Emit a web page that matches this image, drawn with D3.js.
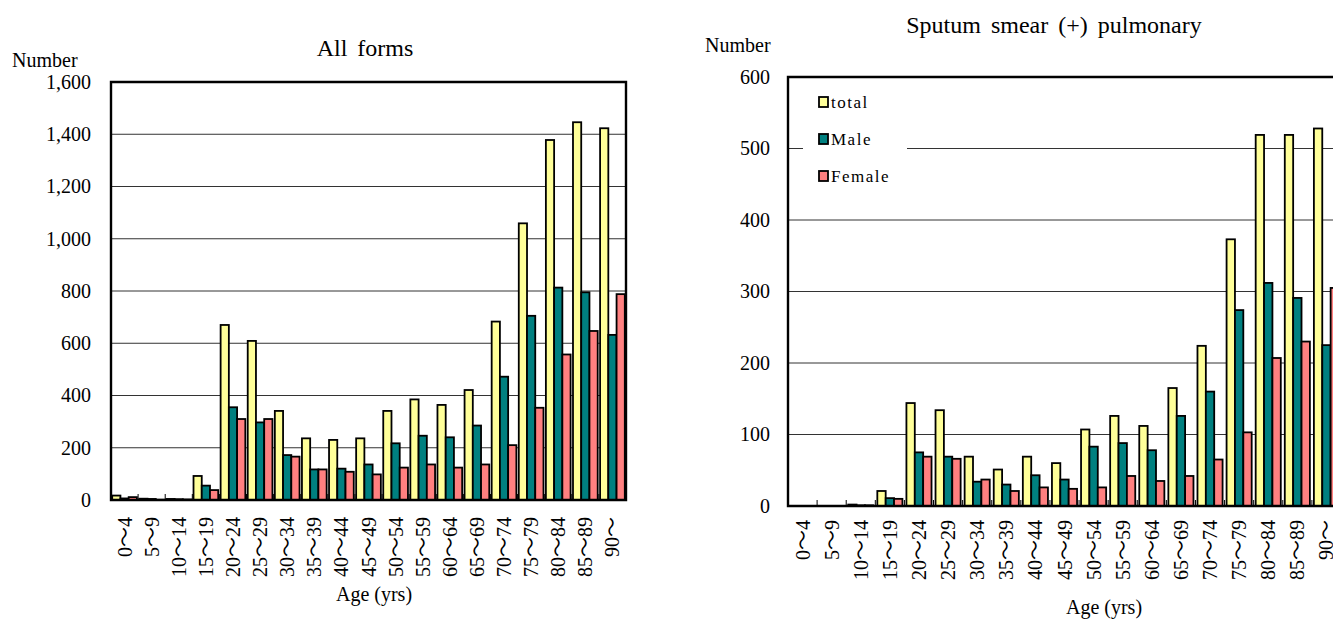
<!DOCTYPE html>
<html>
<head>
<meta charset="utf-8">
<script src="https://cdn.jsdelivr.net/npm/d3@7"></script>
<style>
  body { margin: 0; background: #fff; }
  svg { display: block; }
  text { font-family: "Liberation Serif", "Noto Sans CJK JP", serif; fill: #000; }
</style>
</head>
<body>
<svg id="chart" width="1333" height="622"></svg>
<script>
// age groups on the x axis
const ages = ["0～4", "5～9", "10～14", "15～19", "20～24", "25～29", "30～34", "35～39", "40～44",
  "45～49", "50～54", "55～59", "60～64", "65～69", "70～74", "75～79", "80～84", "85～89", "90～"];
const seriesNames = ["total", "Male", "Female"];
const seriesColors = ["#FFFF99", "#008080", "#FF8080"];

// All forms
const allTotal = [17, 5, 4, 92, 670, 609, 341, 236, 230, 236, 341, 385, 364, 421, 683, 1059, 1378, 1446, 1423];
const allMale = [6, 4, 3, 55, 355, 297, 172, 117, 120, 136, 217, 246, 240, 285, 472, 705, 813, 795, 632];
const allFemale = [11, 1, 2, 38, 310, 310, 166, 117, 108, 98, 124, 136, 124, 136, 210, 353, 557, 647, 788];
const allTicks = [0, 200, 400, 600, 800, 1000, 1200, 1400, 1600];

// Sputum smear (+) pulmonary
const smearTotal = [0, 0, 2, 21, 144, 134, 69, 51, 69, 60, 107, 126, 112, 165, 224, 373, 519, 519, 528];
const smearMale = [0, 0, 1, 11, 75, 69, 34, 30, 43, 37, 83, 88, 78, 126, 160, 274, 312, 291, 225];
const smearFemale = [0, 0, 1, 10, 69, 66, 37, 21, 26, 24, 26, 42, 35, 42, 65, 103, 207, 230, 305];
const smearTicks = [0, 100, 200, 300, 400, 500, 600];

const svg = d3.select("#chart");

function drawChart(opt) {
  const g = svg.append("g");
  const rows = ages.map((a, i) => ({ age: a, values: opt.series.map((s, k) => ({ key: seriesNames[k], v: s[i], k: k })) }));

  const x = d3.scaleBand().domain(ages).range([opt.left, opt.right]).padding(0);
  const xs = d3.scaleBand().domain(seriesNames)
    .range([opt.groupPad, x.bandwidth() - opt.groupPad]).padding(0);
  const y = d3.scaleLinear().domain([0, d3.max(opt.ticks)]).range([opt.bottom, opt.top]);

  // gridlines
  g.append("g").selectAll("line").data(opt.ticks.slice(1, -1)).join("line")
    .attr("x1", opt.left).attr("x2", opt.right)
    .attr("y1", d => y(d)).attr("y2", d => y(d))
    .attr("stroke", "#333").attr("stroke-width", 1);

  // legend box hides the gridline behind it
  if (opt.legend) {
    g.append("rect").attr("x", opt.legend.x).attr("y", opt.legend.y)
      .attr("width", opt.legend.w).attr("height", opt.legend.h).attr("fill", "#fff");
  }

  // bars
  g.append("g").selectAll("g").data(rows).join("g")
    .attr("transform", d => `translate(${x(d.age)},0)`)
    .selectAll("rect").data(d => d.values).join("rect")
    .attr("x", d => xs(d.key))
    .attr("width", xs.bandwidth())
    .attr("y", d => y(d.v))
    .attr("height", d => opt.bottom - y(d.v))
    .attr("fill", d => seriesColors[d.k])
    .attr("stroke", "#000").attr("stroke-width", 1.8);

  // x ticks (inside, at category boundaries)
  g.append("g").selectAll("line").data(ages.slice(1)).join("line")
    .attr("x1", d => x(d)).attr("x2", d => x(d))
    .attr("y1", opt.bottom).attr("y2", opt.bottom - 6)
    .attr("stroke", "#000").attr("stroke-width", 1);

  // frame
  g.append("path")
    .attr("d", `M${opt.left},${opt.bottom}V${opt.top}H${opt.right}V${opt.bottom}Z`)
    .attr("fill", "none").attr("stroke", "#000").attr("stroke-width", 2.4);

  // y axis labels
  const yAxis = d3.axisLeft(y).tickValues(opt.ticks).tickFormat(d3.format(",")).tickSize(0).tickPadding(opt.yPad);
  const ya = g.append("g").attr("transform", `translate(${opt.left},0)`).call(yAxis);
  ya.select(".domain").remove();
  ya.selectAll("text").attr("font-size", 20).attr("font-family", "Liberation Serif").attr("fill", "#000");

  // x labels, rotated
  g.append("g").selectAll("text").data(ages).join("text")
    .attr("transform", d => `translate(${x(d) + x.bandwidth() / 2 + 7},${opt.bottom + opt.xPad}) rotate(-90)`)
    .attr("text-anchor", "end")
    .attr("font-size", 20)
    .text(d => d);

  g.append("text").attr("x", opt.titleX).attr("y", opt.titleY)
    .attr("text-anchor", "middle").attr("font-size", 24).attr("word-spacing", 4).text(opt.title);
  g.append("text").attr("x", opt.numX).attr("y", opt.numY).attr("font-size", 20).text("Number");
  g.append("text").attr("x", opt.ageX).attr("y", opt.ageY)
    .attr("text-anchor", "middle").attr("font-size", 20).text("Age (yrs)");

  if (opt.legend) {
    const items = g.append("g").selectAll("g").data(seriesNames).join("g")
      .attr("transform", (d, i) => `translate(${opt.legend.x + 16},${opt.legend.y + 17 + i * 37})`);
    items.append("rect").attr("x", 0).attr("y", -5).attr("width", 9).attr("height", 10)
      .attr("fill", (d, i) => seriesColors[i]).attr("stroke", "#000").attr("stroke-width", 1.8);
    items.append("text").attr("x", 12).attr("y", 6).attr("font-size", 17)
      .attr("letter-spacing", 1.5).text(d => d);
  }
}

drawChart({
  series: [allTotal, allMale, allFemale], ticks: allTicks,
  left: 111, right: 626, top: 82, bottom: 500, groupPad: 1.2, yPad: 20, xPad: 17,
  title: "All forms", titleX: 365, titleY: 56,
  numX: 12, numY: 67, ageX: 374, ageY: 601
});

drawChart({
  series: [smearTotal, smearMale, smearFemale], ticks: smearTicks,
  left: 788, right: 1341, top: 77, bottom: 506, groupPad: 2, yPad: 18, xPad: 14,
  title: "Sputum smear (+) pulmonary", titleX: 1054, titleY: 33,
  numX: 705, numY: 52, ageX: 1104, ageY: 614,
  legend: { x: 803, y: 85, w: 104, h: 107 }
});
</script>
</body>
</html>
